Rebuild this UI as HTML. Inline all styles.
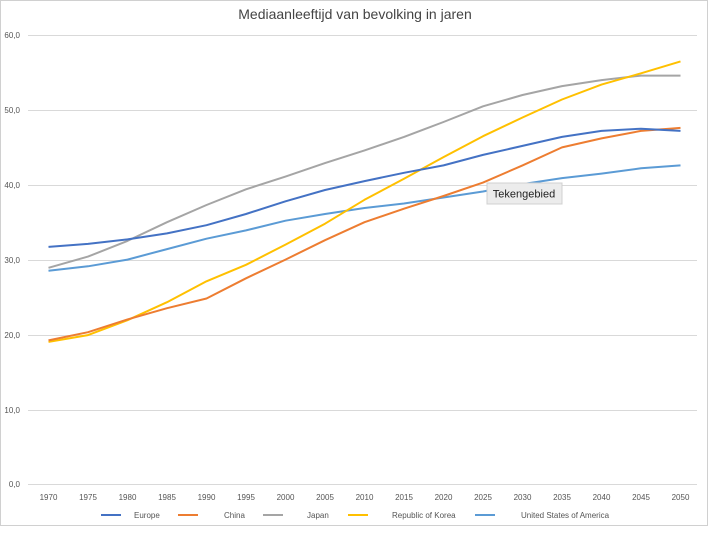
<!DOCTYPE html><html><head><style>body{margin:0;background:#fff;font-family:"Liberation Sans",sans-serif}</style></head><body>
<svg width="713" height="531" xmlns="http://www.w3.org/2000/svg" font-family="Liberation Sans, sans-serif">
<rect x="0.5" y="0.5" width="707" height="525" fill="#fff" stroke="#d0d0d0"/>
<text x="355" y="19" font-size="14" fill="#444" text-anchor="middle">Mediaanleeftijd van bevolking in jaren</text>
<g stroke="#d9d9d9" stroke-width="1">
<line x1="28" x2="697" y1="35.5" y2="35.5"/><line x1="28" x2="697" y1="110.5" y2="110.5"/><line x1="28" x2="697" y1="185.5" y2="185.5"/><line x1="28" x2="697" y1="260.5" y2="260.5"/><line x1="28" x2="697" y1="335.5" y2="335.5"/><line x1="28" x2="697" y1="410.5" y2="410.5"/><line x1="28" x2="697" y1="484.5" y2="484.5"/>
</g>
<g font-size="8" fill="#555" text-anchor="end">
<text x="20" y="38">60,0</text><text x="20" y="113">50,0</text><text x="20" y="188">40,0</text><text x="20" y="263">30,0</text><text x="20" y="338">20,0</text><text x="20" y="413">10,0</text><text x="20" y="487">0,0</text>
</g>
<g font-size="8" fill="#555" text-anchor="middle">
<text x="48.5" y="500">1970</text><text x="88" y="500">1975</text><text x="127.5" y="500">1980</text><text x="167" y="500">1985</text><text x="206.5" y="500">1990</text><text x="246" y="500">1995</text><text x="285.5" y="500">2000</text><text x="325" y="500">2005</text><text x="364.5" y="500">2010</text><text x="404" y="500">2015</text><text x="443.5" y="500">2020</text><text x="483" y="500">2025</text><text x="522.5" y="500">2030</text><text x="562" y="500">2035</text><text x="601.5" y="500">2040</text><text x="641" y="500">2045</text><text x="680.5" y="500">2050</text>
</g>
<g fill="none" stroke-width="2" stroke-linejoin="round">
<polyline stroke="#5b9bd5" points="48.5,270.8 88,266.3 127.5,259.6 167,249.1 206.5,238.7 246,230.4 285.5,220.7 325,214 364.5,208 404,203.5 443.5,197.5 483,191.5 522.5,184.1 562,178.1 601.5,173.6 641,168.3 680.5,165.4"/>
<polyline stroke="#a5a5a5" points="48.5,267.8 88,256.6 127.5,240.9 167,222.2 206.5,205 246,189.3 285.5,176.6 325,163.1 364.5,150.4 404,136.9 443.5,122 483,106.3 522.5,95 562,86.1 601.5,80.1 641,75.6 680.5,75.6"/>
<polyline stroke="#ffc000" points="48.5,341.9 88,335.1 127.5,320.2 167,302.2 206.5,281.3 246,264.8 285.5,244.6 325,223.7 364.5,199.8 404,178.8 443.5,157.1 483,136.2 522.5,117.5 562,99.5 601.5,84.6 641,73.3 680.5,61.4"/>
<polyline stroke="#ed7d31" points="48.5,340.4 88,332.2 127.5,319.4 167,308.2 206.5,298.5 246,278.3 285.5,259.6 325,240.2 364.5,222.2 404,208.7 443.5,196 483,182.6 522.5,165.4 562,147.4 601.5,138.4 641,130.9 680.5,127.9"/>
<polyline stroke="#4472c4" points="48.5,246.9 88,243.9 127.5,239.4 167,233.4 206.5,225.2 246,214 285.5,201.3 325,190 364.5,181.1 404,172.8 443.5,165.4 483,154.9 522.5,145.9 562,136.9 601.5,130.9 641,128.7 680.5,130.9"/>
</g>
<g font-size="8" fill="#555">
<line x1="101" x2="121" y1="515" y2="515" stroke="#4472c4" stroke-width="2"/><text x="134" y="518">Europe</text>
<line x1="178" x2="198" y1="515" y2="515" stroke="#ed7d31" stroke-width="2"/><text x="224" y="518">China</text>
<line x1="263" x2="283" y1="515" y2="515" stroke="#a5a5a5" stroke-width="2"/><text x="307" y="518">Japan</text>
<line x1="348" x2="368" y1="515" y2="515" stroke="#ffc000" stroke-width="2"/><text x="392" y="518">Republic of Korea</text>
<line x1="475" x2="495" y1="515" y2="515" stroke="#5b9bd5" stroke-width="2"/><text x="521" y="518">United States of America</text>
</g>
<rect x="487" y="183" width="75" height="21" fill="#ececec" stroke="#d0d0d0"/>
<text x="524" y="197.5" font-size="11" fill="#222" text-anchor="middle">Tekengebied</text>
</svg></body></html>
